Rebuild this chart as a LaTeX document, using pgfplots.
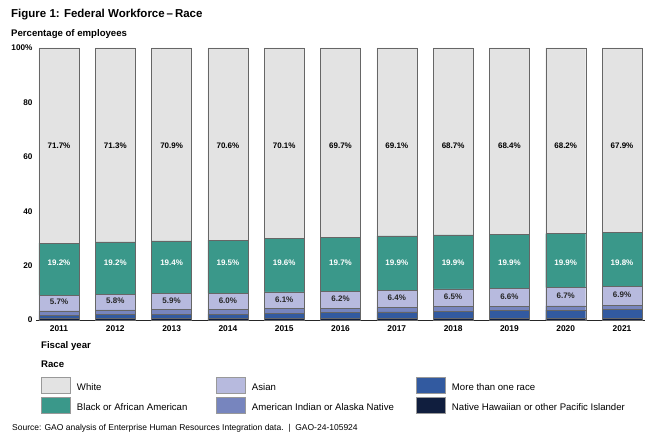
\documentclass[border=0pt]{standalone}
\usepackage{pgfplots}
\pgfplotsset{compat=1.18}
\usepackage{pgfplotstable}
\usepackage{fontspec}
\setmainfont{Liberation Sans}
\pgfplotsset{/pgf/number format/assume math mode=true}
\definecolor{cWhite}{RGB}{227,227,227}
\definecolor{cBlack}{RGB}{58,152,138}
\definecolor{cAsian}{RGB}{183,186,222}
\definecolor{cAIAN}{RGB}{119,133,190}
\definecolor{cMulti}{RGB}{50,90,160}
\definecolor{cNHPI}{RGB}{16,30,62}

\pgfplotstableread{
x year nhpi multi aian asian black white
0 2011 0.5 1.2 1.7 5.7 19.2 71.7
1 2012 0.5 1.5 1.7 5.8 19.2 71.3
2 2013 0.5 1.6 1.7 5.9 19.4 70.9
3 2014 0.5 1.7 1.7 6.0 19.5 70.6
4 2015 0.5 2.0 1.7 6.1 19.6 70.1
5 2016 0.5 2.2 1.7 6.2 19.7 69.7
6 2017 0.5 2.5 1.6 6.4 19.9 69.1
7 2018 0.5 2.8 1.6 6.5 19.9 68.7
8 2019 0.5 3.0 1.6 6.6 19.9 68.4
9 2020 0.5 3.1 1.6 6.7 19.9 68.2
10 2021 0.5 3.3 1.6 6.9 19.8 67.9
}\data

% label positions and values
\pgfplotstableread{
x amid bmid wmid asian black white
0 6.55 20.95 64.0 5.7 19.2 71.7
1 6.90 20.95 64.0 5.8 19.2 71.3
2 7.05 20.95 64.0 5.9 19.4 70.9
3 7.20 20.95 64.0 6.0 19.5 70.6
4 7.55 20.95 64.0 6.1 19.6 70.1
5 7.80 20.95 64.0 6.2 19.7 69.7
6 8.10 20.95 64.0 6.4 19.9 69.1
7 8.45 20.95 64.0 6.5 19.9 68.7
8 8.70 20.95 64.0 6.6 19.9 68.4
9 8.85 20.95 64.0 6.7 19.9 68.2
10 9.15 20.95 64.0 6.9 19.8 67.9
}\labels

\newcommand{\fs}[1]{\fontsize{#1}{#1}\selectfont}

\begin{document}
\begin{tikzpicture}
\path[use as bounding box] (-36pt,-119pt) rectangle (614pt,320pt);

\begin{axis}[
  scale only axis, width=609pt, height=272pt,
  xmin=-0.4085, xmax=10.4085, ymin=0, ymax=100,
  ybar stacked, bar width=40pt,
  axis x line*=bottom, axis y line*=left,
  axis line style={-},
  y axis line style={draw=none},
  x axis line style={draw=black!85, line width=1pt},
  major tick length=0pt,
  xtick={0,...,10},
  xticklabels={2011,2012,2013,2014,2015,2016,2017,2018,2019,2020,2021},
  ytick={0,20,40,60,80,100},
  yticklabels={0,20,40,60,80,100\%},
  xticklabel style={font=\fs{8.4}\bfseries, yshift=-2pt},
  yticklabel style={font=\fs{8.2}\bfseries},
  every axis plot/.append style={draw=black!60, line width=0.4pt},
]
\addplot[fill=cNHPI] table[x=x,y=nhpi] {\data};
\addplot[fill=cMulti] table[x=x,y=multi] {\data};
\addplot[fill=cAIAN] table[x=x,y=aian] {\data};
\addplot[fill=cAsian] table[x=x,y=asian] {\data};
\addplot[fill=cBlack] table[x=x,y=black] {\data};
\addplot[fill=cWhite] table[x=x,y=white] {\data};
\end{axis}

\begin{axis}[
  scale only axis, width=609pt, height=272pt,
  xmin=-0.4085, xmax=10.4085, ymin=0, ymax=100,
  hide axis,
  nodes near coords={\pgfmathprintnumber[fixed,fixed zerofill,precision=1]{\pgfplotspointmeta}\%},
  legend columns=3,
  legend image code/.code={\draw[#1] (0pt,-4.6pt) rectangle (29pt,10.9pt);},
  legend style={at={(0.0082,-0.2096)}, anchor=north west, draw=none, fill=none,
    inner sep=0pt, outer sep=0pt, row sep=4pt,
    nodes={inner sep=0pt, outer sep=0pt, font=\fs{9.6}},
    /tikz/every odd column/.append style={column sep=6.5pt}},
]
\addplot[only marks, mark=*, mark size=0pt, mark options={draw=none,fill=none}, forget plot,
  point meta=explicit,
  every node near coord/.style={anchor=center, font=\fs{8}\bfseries, text=black}]
  table[x=x,y=wmid,meta=white] {\labels};
\addplot[only marks, mark=*, mark size=0pt, mark options={draw=none,fill=none}, forget plot,
  point meta=explicit,
  every node near coord/.style={anchor=center, font=\fs{8}\bfseries, text=white}]
  table[x=x,y=bmid,meta=black] {\labels};
\addplot[only marks, mark=*, mark size=0pt, mark options={draw=none,fill=none}, forget plot,
  point meta=explicit,
  every node near coord/.style={anchor=center, font=\fs{8}\bfseries, text=black!85}]
  table[x=x,y=amid,meta=asian] {\labels};

\addlegendimage{fill=cWhite, draw=black!40, line width=0.5pt}
\addlegendentry{\makebox[139pt][l]{White}}
\addlegendimage{fill=cAsian, draw=black!40, line width=0.5pt}
\addlegendentry{\makebox[164pt][l]{Asian}}
\addlegendimage{fill=cMulti, draw=black!40, line width=0.5pt}
\addlegendentry{\makebox[180pt][l]{More than one race}}
\addlegendimage{fill=cBlack, draw=black!40, line width=0.5pt}
\addlegendentry{\makebox[139pt][l]{Black or African American}}
\addlegendimage{fill=cAIAN, draw=black!40, line width=0.5pt}
\addlegendentry{\makebox[164pt][l]{American Indian or Alaska Native}}
\addlegendimage{fill=cNHPI, draw=black!40, line width=0.5pt}
\addlegendentry{\makebox[180pt][l]{Native Hawaiian or other Pacific Islander}}
\end{axis}

\node[anchor=west, inner sep=0pt, font=\fs{11.5}\bfseries] at (-25pt,305pt) {Figure 1: Federal Workforce\,--\,Race};
\node[anchor=west, inner sep=0pt, font=\fs{9.6}\bfseries] at (-25pt,286pt) {Percentage of employees};
\node[anchor=west, inner sep=0pt, font=\fs{9.6}\bfseries] at (5pt,-26pt) {Fiscal year};
\node[anchor=west, inner sep=0pt, font=\fs{9.6}\bfseries] at (5pt,-44pt) {Race};
\node[anchor=west, inner sep=0pt, font=\fs{8.5}] at (-24pt,-108pt) {Source: GAO analysis of Enterprise Human Resources Integration data.~~|~~GAO-24-105924};
\end{tikzpicture}
\end{document}
